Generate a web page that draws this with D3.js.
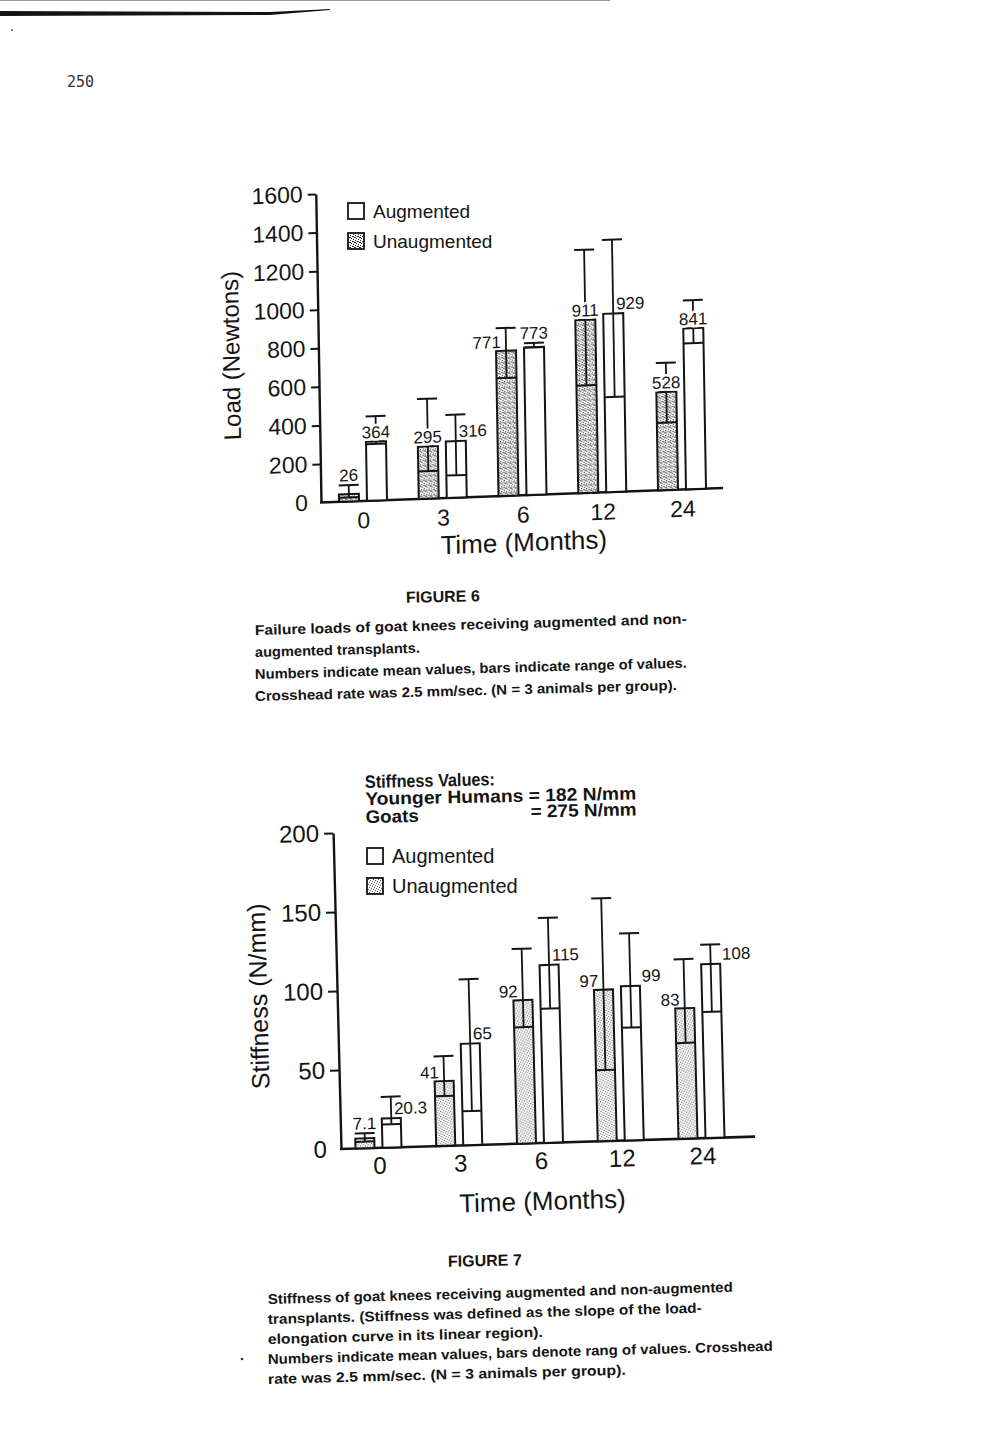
<!DOCTYPE html>
<html><head><meta charset="utf-8">
<script src="https://cdn.jsdelivr.net/npm/d3@7"></script>
<style>body{margin:0;background:#fff} svg{display:block}</style>
</head><body>
<script>
// ---------------- data ----------------
const months = ["0", "3", "6", "12", "24"];

// Figure 6 : failure load (Newtons)
const loadTicks = [0, 200, 400, 600, 800, 1000, 1200, 1400, 1600];
const loadUnaugTop  = [38, 271, 752, 898, 509];
const loadUnaugMin  = [21, 143, 611, 558, 349];
const loadUnaugMax  = [85, 518, 870, 1261, 660];
const loadUnaugMean = ["26", "295", "771", "911", "528"];
const loadAugTop  = [306, 293, 765, 925, 834];
const loadAugMin  = [294, 116, 765, 493, 756];
const loadAugMax  = [437, 430, 788, 1308, 980];
const loadAugMean = ["364", "316", "773", "929", "841"];

// Figure 7 : stiffness (N/mm)
const stiffTicks = [0, 50, 100, 150, 200];
const stiffUnaugTop  = [6.3, 41, 90.7, 95.8, 82.5];
const stiffUnaugMin  = [4.2, 31.5, 73.6, 44.9, 60.6];
const stiffUnaugMax  = [9.5, 56.8, 123.2, 153.6, 113.6];
const stiffUnaugMean = ["7.1", "41", "92", "97", "83"];
const stiffAugTop  = [18.5, 64.2, 112.5, 97.6, 110];
const stiffAugMin  = [14.7, 21.5, 84.9, 71.3, 79.8];
const stiffAugMax  = [32.2, 105, 142.3, 131, 122.3];
const stiffAugMean = ["20.3", "65", "115", "99", "108"];

const legendLabels = ["Augmented", "Unaugmented"];

// label placement (layout only)
const loadUnaugSide  = ["above", "above", "left", "above", "above"];
const loadAugSide    = ["above", "right", "above", "right", "above"];
const stiffUnaugSide = ["above", "left", "left", "left", "left"];
const stiffAugSide   = ["right", "right", "right", "rightOut", "rightOut"];

const fig6Caption = [
  "Failure loads of goat knees receiving augmented and non-",
  "augmented transplants.",
  "Numbers indicate mean values, bars indicate range of values.",
  "Crosshead rate was 2.5 mm/sec. (N = 3 animals per group)."
];
const fig7Caption = [
  "Stiffness of goat knees receiving augmented and non-augmented",
  "transplants. (Stiffness was defined as the slope of the load-",
  "elongation curve in its linear region).",
  "Numbers indicate mean values, bars denote rang of values. Crosshead",
  "rate was 2.5 mm/sec. (N = 3 animals per group)."
];
const stiffNote = ["Stiffness Values:", "Younger Humans = 182 N/mm", "Goats", "= 275 N/mm"];

// ---------------- drawing ----------------
const FONT = "'Liberation Sans', Arial, Helvetica, sans-serif";
const INK = "#141414";
const svg = d3.select("body").append("svg").attr("width", 990).attr("height", 1435);
svg.append("rect").attr("width", 990).attr("height", 1435).attr("fill", "#fff");

const defs = svg.append("defs");
function stipple(id, size, dots, color) {
  const p = defs.append("pattern").attr("id", id).attr("patternUnits", "userSpaceOnUse")
    .attr("width", size).attr("height", size);
  p.append("rect").attr("width", size).attr("height", size).attr("fill", "#fff");
  dots.forEach(d => p.append("rect").attr("x", d[0]).attr("y", d[1]).attr("width", 1).attr("height", 1).attr("fill", color));
}
stipple("stip6", 5, [[0,0],[2,1],[4,2],[1,3],[3,4],[0,2],[3,1]], "#222");
stipple("stip7", 5, [[0,0],[2,1],[4,2],[1,3],[3,4]], "#555");

// scan artefacts: page rule & page number
svg.append("line").attr("x1", 0).attr("x2", 610).attr("y1", 0.5).attr("y2", 0.5).attr("stroke", "#999").attr("stroke-width", 1);
svg.append("path").attr("d", "M0,11 L270,12 L330,9 L330,10 L270,15 L0,16 Z").attr("fill", INK);
svg.append("circle").attr("cx", 12).attr("cy", 30).attr("r", 1).attr("fill", "#555");
svg.append("circle").attr("cx", 242).attr("cy", 1359).attr("r", 1.3).attr("fill", "#333");
svg.append("text").attr("x", 67).attr("y", 87).attr("font-family", "'DejaVu Sans Mono', monospace")
  .attr("font-size", 15).attr("fill", "#333").text("250");

function figure(o) {
  const g = svg.append("g").attr("transform", `matrix(1,${o.b},${o.c},1,${o.ox},${o.oy})`);
  const x = d3.scalePoint().domain(o.cats).range(o.xRange);
  const y = d3.scaleLinear().domain([0, o.yMax]).range([0, -o.yLen]);

  const ya = g.append("g").call(d3.axisLeft(y).tickValues(o.ticks).tickSize(o.tickLen)
      .tickSizeOuter(0).tickPadding(o.tickPad).tickFormat(d3.format("d")));
  ya.attr("font-family", FONT).attr("font-size", o.tickFont);
  ya.select(".domain").attr("stroke", INK).attr("stroke-width", 2.4);
  ya.selectAll(".tick line").attr("stroke", INK).attr("stroke-width", 2);
  ya.selectAll(".tick text").attr("fill", INK);
  ya.selectAll(".tick").filter(d => d === 0).select("line").remove();

  g.append("line").attr("x1", -1).attr("x2", o.axisLen).attr("y1", 0).attr("y2", 0)
    .attr("stroke", INK).attr("stroke-width", 2.6);
  const xa = g.append("g").call(d3.axisBottom(x).tickSize(0).tickPadding(o.xPad));
  xa.attr("font-family", FONT).attr("font-size", o.xFont);
  xa.select(".domain").remove();
  xa.selectAll(".tick text").attr("fill", INK);

  g.append("text").attr("transform", `translate(${o.yTitleX},${o.yTitleY}) rotate(-90)`)
    .attr("text-anchor", "middle").attr("font-family", FONT).attr("font-size", o.yTitleFont)
    .attr("fill", INK).text(o.yTitle);
  g.append("text").attr("x", o.xTitleX).attr("y", o.xTitleY).attr("text-anchor", "middle")
    .attr("font-family", FONT).attr("font-size", o.xTitleFont).attr("fill", INK).text("Time (Months)");

  o.series.forEach(s => {
    const idx = d3.range(o.cats.length);
    const cx = i => x(o.cats[i]) + s.off;
    const sg = g.append("g");
    sg.selectAll("rect").data(idx).join("rect")
      .attr("x", i => cx(i) - o.bw / 2).attr("width", o.bw)
      .attr("y", i => y(s.top[i])).attr("height", i => y(0) - y(s.top[i]))
      .attr("fill", s.fill).attr("stroke", INK).attr("stroke-width", 2);
    sg.selectAll("line.min").data(idx).join("line").attr("class", "min")
      .attr("x1", i => cx(i) - o.bw / 2).attr("x2", i => cx(i) + o.bw / 2)
      .attr("y1", i => y(s.min[i])).attr("y2", i => y(s.min[i]))
      .attr("stroke", INK).attr("stroke-width", 2);
    sg.selectAll("line.whisk").data(idx).join("line").attr("class", "whisk")
      .attr("x1", cx).attr("x2", cx)
      .attr("y1", i => y(s.min[i])).attr("y2", i => y(s.max[i]))
      .attr("stroke", INK).attr("stroke-width", 1.8);
    sg.selectAll("line.cap").data(idx).join("line").attr("class", "cap")
      .attr("x1", i => cx(i) - o.capW / 2).attr("x2", i => cx(i) + o.capW / 2)
      .attr("y1", i => y(s.max[i])).attr("y2", i => y(s.max[i]))
      .attr("stroke", INK).attr("stroke-width", 2);
    sg.selectAll("text").data(idx).join("text")
      .attr("font-family", FONT).attr("font-size", o.valFont).attr("fill", INK)
      .attr("stroke", i => s.side[i] === "above" ? "#fff" : "none")
      .attr("stroke-width", 5).attr("paint-order", "stroke")
      .attr("text-anchor", i => s.side[i] === "left" ? "end" : (s.side[i] === "above" ? "middle" : "start"))
      .attr("x", i => {
        const sd = s.side[i];
        if (sd === "above") return cx(i);
        if (sd === "left") return cx(i) - 5;
        if (sd === "right") return cx(i) + 3;
        return cx(i) + o.bw / 2 + 2;
      })
      .attr("y", i => {
        const t = y(s.top[i]), c = y(s.max[i]);
        if (s.side[i] === "above") return (t - c < 12) ? c - 4 : t - 3.5;
        if (s.side[i] === "left") return t - 3;
        return t - 4;
      })
      .text(i => s.mean[i]);
  });
}

figure({
  b: -0.036, c: 0.017, ox: 321, oy: 502.5,
  cats: months, xRange: [42, 361], axisLen: 402,
  yMax: 1600, yLen: 308.5, ticks: loadTicks, tickLen: 8, tickPad: 5, tickFont: 23,
  xFont: 23, xPad: 11, bw: 20, capW: 20, valFont: 17,
  yTitle: "Load (Newtons)", yTitleX: -79, yTitleY: -150, yTitleFont: 24,
  xTitleX: 202, xTitleY: 56, xTitleFont: 26,
  series: [
    { off: -14, top: loadUnaugTop, min: loadUnaugMin, max: loadUnaugMax, mean: loadUnaugMean, side: loadUnaugSide, fill: "url(#stip6)" },
    { off: 14, top: loadAugTop, min: loadAugMin, max: loadAugMax, mean: loadAugMean, side: loadAugSide, fill: "#fff" }
  ]
});

figure({
  b: -0.030, c: 0.025, ox: 341, oy: 1149,
  cats: months, xRange: [38, 361], axisLen: 414,
  yMax: 200, yLen: 316, ticks: stiffTicks, tickLen: 9, tickPad: 5, tickFont: 24,
  xFont: 24, xPad: 9, bw: 19, capW: 20, valFont: 17,
  yTitle: "Stiffness (N/mm)", yTitleX: -70, yTitleY: -155, yTitleFont: 25,
  xTitleX: 200, xTitleY: 67, xTitleFont: 26,
  series: [
    { off: -14, top: stiffUnaugTop, min: stiffUnaugMin, max: stiffUnaugMax, mean: stiffUnaugMean, side: stiffUnaugSide, fill: "url(#stip7)" },
    { off: 13, top: stiffAugTop, min: stiffAugMin, max: stiffAugMax, mean: stiffAugMean, side: stiffAugSide, fill: "#fff" }
  ]
});

// legends (page coordinates)
function legend(x0, y0, gap, box, font, fill) {
  const lg = svg.append("g");
  legendLabels.forEach((t, i) => {
    lg.append("rect").attr("x", x0).attr("y", y0 + i * gap).attr("width", box).attr("height", box)
      .attr("fill", i === 0 ? "#fff" : fill).attr("stroke", INK).attr("stroke-width", 1.8);
    lg.append("text").attr("x", x0 + box + 9).attr("y", y0 + i * gap + box - 1)
      .attr("font-family", FONT).attr("font-size", font).attr("fill", INK).text(t);
  });
}
legend(348, 203, 30, 16, 19, "url(#stip6)");
legend(367, 848, 30, 16, 20, "url(#stip7)");

// stiffness note
const note = svg.append("g").attr("transform", "rotate(-1.2,365,785)")
  .attr("font-family", FONT).attr("font-weight", "bold").attr("font-size", 18).attr("fill", INK);
const noteW = [130, 271, 53, 106];
const noteX = [365, 365, 365, 530];
const noteY = [788, 805, 823, 821];
stiffNote.forEach((t, i) => {
  note.append("text").attr("x", noteX[i]).attr("y", noteY[i])
    .attr("textLength", noteW[i]).attr("lengthAdjust", "spacingAndGlyphs").text(t);
});

// captions
function caption(title, tx, ty, lines, lx, ly0, dy, widths) {
  const cg = svg.append("g").attr("font-family", FONT).attr("font-weight", "bold").attr("fill", INK);
  cg.append("text").attr("x", tx).attr("y", ty).attr("text-anchor", "middle").attr("font-size", 16)
    .attr("transform", `rotate(-1.2,${tx},${ty})`).text(title);
  lines.forEach((t, i) => {
    const yy = ly0 + i * dy;
    cg.append("text").attr("x", lx).attr("y", yy).attr("font-size", 14)
      .attr("textLength", widths[i]).attr("lengthAdjust", "spacingAndGlyphs")
      .attr("transform", `rotate(-1.5,${lx},${yy})`).text(t);
  });
}
caption("FIGURE 6", 443, 602, fig6Caption, 255, 635, 22, [432, 165, 432, 422]);
caption("FIGURE 7", 485, 1266, fig7Caption, 268, 1304, 20, [465, 434, 275, 505, 358]);
</script>
</body></html>
